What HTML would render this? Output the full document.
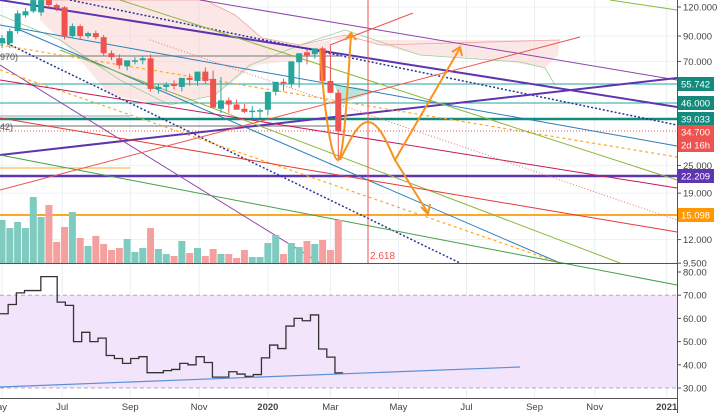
<!DOCTYPE html>
<html><head><meta charset="utf-8">
<style>
html,body{margin:0;padding:0;background:#fff;}
#wrap{position:relative;width:720px;height:413px;overflow:hidden;font-family:"Liberation Sans",sans-serif;}
svg text{font-family:"Liberation Sans",sans-serif;}
</style></head>
<body>
<div id="wrap">
<svg id="chart" width="720" height="413" viewBox="0 0 720 413" xmlns="http://www.w3.org/2000/svg">
<g id="grid"></g>
<g id="cloud">
<polygon points="40,0 205,0 235,15 262,38 300,45 330,40 330,50 300,60 255,65 215,95 165,105 110,95 80,60 40,20" fill="#f8c9c9" opacity="0.45"/>
<polygon points="330,40 560,40 558,55 545,68 500,60 420,55 380,45 345,35" fill="#f8c9c9" opacity="0.45"/>
<polygon points="335,85 360,88 375,92 340,104" fill="#8fd3c2" opacity="0.6"/>
<polyline points="0,15 60,40 120,80 170,105 215,95 250,65 300,45 345,30 420,55 520,62 545,68 555,85" fill="none" stroke="#9ccf9c" stroke-width="0.8"/>
<polyline points="40,0 205,0 235,15 262,38 300,45 345,35 380,45 560,40" fill="none" stroke="#f2a0a0" stroke-width="0.8"/>
</g>
<g id="drawings">
<line x1="0" y1="56" x2="340" y2="56" stroke="#9e9e9e" stroke-width="1.5"/>
<line x1="0" y1="126" x2="340" y2="126" stroke="#9e9e9e" stroke-width="1.5"/>
<line x1="0" y1="116" x2="130" y2="116" stroke="#9e9e9e" stroke-width="1"/>
<line x1="0" y1="168" x2="130" y2="168" stroke="#ffa726" stroke-width="1"/>
<line x1="0" y1="84" x2="677" y2="84" stroke="#26a69a" stroke-width="1"/>
<line x1="0" y1="103" x2="677" y2="103" stroke="#26a69a" stroke-width="1"/>
<line x1="0" y1="119" x2="677" y2="119" stroke="#138a7c" stroke-width="2.5"/>
<line x1="0" y1="131" x2="677" y2="131" stroke="#ef5350" stroke-width="1" stroke-dasharray="1,2"/>
<line x1="0" y1="176" x2="677" y2="176" stroke="#5e35b1" stroke-width="2.5"/>
<line x1="0" y1="215" x2="677" y2="215" stroke="#ffa726" stroke-width="2"/>
<line x1="200" y1="0" x2="677" y2="80" stroke="#8e44ad" stroke-width="1"/>
<line x1="0" y1="0" x2="677" y2="107" stroke="#5e35b1" stroke-width="2"/>
<line x1="70" y1="0" x2="677" y2="125" stroke="#283593" stroke-width="1.5" stroke-dasharray="2,2"/>
<line x1="0" y1="155" x2="677" y2="78" stroke="#5e35b1" stroke-width="2"/>
<line x1="0" y1="25" x2="677" y2="146" stroke="#2a7fb8" stroke-width="1"/>
<line x1="20" y1="30" x2="560" y2="263" stroke="#2a7fb8" stroke-width="1"/>
<line x1="0" y1="40" x2="460" y2="263" stroke="#283593" stroke-width="1.5" stroke-dasharray="2,2"/>
<line x1="0" y1="65" x2="320" y2="263" stroke="#8e44ad" stroke-width="1"/>
<line x1="0" y1="45" x2="677" y2="157" stroke="#ffa726" stroke-width="1.2" stroke-dasharray="3,3"/>
<line x1="0" y1="70" x2="560" y2="263" stroke="#ffa726" stroke-width="1.2" stroke-dasharray="3,3"/>
<line x1="120" y1="0" x2="677" y2="180" stroke="#8bb83a" stroke-width="1"/>
<line x1="60" y1="50" x2="620" y2="263" stroke="#8bb83a" stroke-width="1"/>
<line x1="0" y1="80" x2="677" y2="188" stroke="#c2185b" stroke-width="1"/>
<line x1="0" y1="118" x2="677" y2="232" stroke="#e53935" stroke-width="1"/>
<line x1="150" y1="40" x2="677" y2="220" stroke="#e57373" stroke-width="1" stroke-dasharray="1,2"/>
<line x1="0" y1="155" x2="677" y2="285" stroke="#43a047" stroke-width="1"/>
<line x1="0" y1="190" x2="580" y2="37" stroke="#ef5350" stroke-width="1"/>
<line x1="330" y1="45" x2="413" y2="13" stroke="#ef5350" stroke-width="1"/>
<line x1="610" y1="0" x2="677" y2="10" stroke="#8bb83a" stroke-width="1"/>
<line x1="368" y1="0" x2="368" y2="263" stroke="#ef5350" stroke-width="1"/>
<text x="370" y="259" font-size="10" fill="#ef5350">2.618</text>
<text x="0" y="60" font-size="9" fill="#555">970)</text>
<text x="0" y="130" font-size="9" fill="#555">42)</text>
</g>
<g id="volume"></g>
<g id="candles"></g>
<g id="arrows" fill="none" stroke="#f7931e" stroke-width="2">
<path d="M320,50 C325,120 332,160 338,160 C344,160 348,80 351,35"/>
<path d="M345,40 L351,33 L356,40"/>
<path d="M340,160 C350,140 358,122 368,122 C380,122 390,150 395,160 L460,48"/>
<path d="M452,52 L460,47 L462,56"/>
<path d="M395,160 L428,213"/>
<path d="M421,207 L428,214 L430,204"/>
<path d="M337,372 C345,330 355,300 370,300 C390,300 410,330 428,372"/>
<path d="M420,366 L428,373 L431,362"/>
</g>
<g id="rsi-panel"></g>
<line x1="0" y1="263.5" x2="720" y2="263.5" stroke="#555" stroke-width="1"/>
<line x1="677.5" y1="0" x2="677.5" y2="413" stroke="#555" stroke-width="1"/>
<line x1="0" y1="398.5" x2="677" y2="398.5" stroke="#555" stroke-width="1"/>
<g id="yaxis"></g>
<g id="rsiaxis"></g>
<g id="xaxis"></g>
<g id="badges"></g>
</svg>
</div>
<script>
const opens=[83.7,83.9,94.5,110.5,115,113.8,128.5,122.3,119.6,89.9,99.3,89.9,92.6,89,75.9,72.2,66.7,70.1,70.8,72.2,53.3,54.4,56,54.4,59.5,57.7,63.3,58.9,43.8,47.6,45.7,43.8,42.5,43,43.4,51.8,57.2,56,69.4,76.6,75.2,79.7,57.7,51.3];
const closes=[88.2,94.5,112.7,115,128.5,128.5,122.3,118.7,89.9,99.3,89.9,92.6,89,75.9,73,67.4,70.8,70.8,72.2,53.3,54.4,55.5,54.9,59.5,58.3,63.3,57.7,44.3,47.6,45.7,43.4,42.5,43,43.2,51.8,57.2,56.6,70.1,75.9,74.3,79.7,57.7,51.3,35];
const highs=[91,97,116,119,135,135,132,124,121,102,101,94,95,91,78,75,70,73,74,75,56,57,58,58,62,61,66,64,60,49,48,46,45,44,45,53,59,59,73,79,78,81,82,53];
const lows=[80,80,92,108,113,110,119,115,87,88,87,88,87,74,71,65,64,68,68,52,51,52,53,52,55,55,56,54,42,42,44,42,40,40,41,50,52,54,54,68,72,73,56,26];
const volumes=[43,35,41,35,66,46,58,21,36,51,25,17,27,19,13,15,24,11,15,35,14,9,7,22,10,15,7,14,9,9,5,13,6,6,20,28,9,20,16,22,19,23,13,43];
const rsiValues=[62,66,71,72,72,78,78,67,65.6,50,54,50,51.5,44,42.7,40.6,42.7,43.5,36.6,36.6,37.5,38,40.6,40,43.5,41,34.7,34.7,37,36,35,35.8,43,48.5,47,56.7,60,59,61.5,46.8,43.3,36.5];
const priceTicks=[120,90,70,25,19,12,9.5];
const rsiTicks=[80,70,60,50,40,30];
const timeLabels=["ay","Jul","Sep","Nov","2020","Mar","May","Jul","Sep","Nov","2021"];
const timeWeeks=[0,7.7,16.4,25.2,34,42,50.7,59.4,68.1,75.8,85];

const NS="http://www.w3.org/2000/svg";
function mk(tag,attrs,parent){const e=document.createElementNS(NS,tag);for(const k in attrs)e.setAttribute(k,attrs[k]);parent.appendChild(e);return e;}
const xScale=i=>2+i*7.82;
const xRsi=i=>i*8.17;
const yPrice=p=>7+(Math.log(120)-Math.log(p))*101;
const yRsi=v=>272+(80-v)*2.32;
const yVol=v=>263-v;

const grid=document.getElementById('grid');
timeWeeks.forEach(w=>{const x=xScale(w);mk('line',{x1:x,y1:0,x2:x,y2:398,stroke:'#e8eff3','stroke-width':1},grid);});
priceTicks.forEach(t=>{const y=yPrice(t);mk('line',{x1:0,y1:y,x2:677,y2:y,stroke:'#eef2f4','stroke-width':1},grid);});

const vol=document.getElementById('volume');
volumes.forEach((v,i)=>{const up=closes[i]>=opens[i];
 const r=mk('rect',{x:xScale(i)-3.5,y:yVol(v),width:7,height:v,fill:up?'#7fcbbf':'#f4a09e'},vol);
 
 });

const cg=document.getElementById('candles');
opens.forEach((o,i)=>{const c=closes[i];const up=c>=o;const col=up?'#26a69a':'#ef5350';const x=xScale(i);
 const g=mk('g',{},cg);
 
 
 mk('line',{x1:x,y1:yPrice(highs[i]),x2:x,y2:yPrice(lows[i]),stroke:col,'stroke-width':1},g);
 const y1=yPrice(Math.max(o,c)),y2=yPrice(Math.min(o,c));
 mk('rect',{x:x-3,y:y1,width:6,height:Math.max(1.5,y2-y1),fill:col},g);});

const rp=document.getElementById('rsi-panel');
const band=mk('rect',{x:0,y:yRsi(70),width:677,height:yRsi(30)-yRsi(70),fill:'#f1e4fb'},rp);


[70,30].forEach(v=>mk('line',{x1:0,y1:yRsi(v),x2:677,y2:yRsi(v),stroke:'#b7a6c4','stroke-width':1,'stroke-dasharray':'4,3'},rp));
let d='';rsiValues.forEach((v,i)=>{const xl=xRsi(i),xr=xRsi(i+1),y=yRsi(v);d+=(i?'L':'M')+xl+','+y+'L'+xr+','+y;});
const rl=mk('path',{d:d,fill:'none',stroke:'#333','stroke-width':1.3},rp);


const tl=mk('line',{x1:0,y1:387,x2:520,y2:367,stroke:'#5b8fd6','stroke-width':1.2},rp);



const ya=document.getElementById('yaxis');
mk('rect',{x:678,y:0,width:42,height:413,fill:'#fff'},ya);
priceTicks.forEach(t=>{const y=yPrice(t);mk('line',{x1:677,y1:y,x2:681,y2:y,stroke:'#555'},ya);
 const tx=mk('text',{x:683,y:y+3.5,'font-size':9.5,fill:'#444'},ya);tx.textContent=t.toFixed(3);
 
 });
const ra=document.getElementById('rsiaxis');
rsiTicks.forEach(t=>{const y=yRsi(t);mk('line',{x1:677,y1:y,x2:681,y2:y,stroke:'#555'},ra);
 const tx=mk('text',{x:683,y:y+3.5,'font-size':9.5,fill:'#444'},ra);tx.textContent=t.toFixed(2);
 
 });
const xa=document.getElementById('xaxis');
timeLabels.forEach((l,i)=>{const x=xScale(timeWeeks[i]);
 const tx=mk('text',{x:x,y:410,'font-size':9.5,fill:'#444','text-anchor':'middle','font-weight':l.length===4?'bold':'normal'},xa);tx.textContent=l;
 
 });

const badgeLabels=["55.742","46.000","39.033","34.700","2d 16h","22.209","15.098"];
const badgeYs=[84,103,119,132,145,176,215];
const badgeColors=["#138a7c","#138a7c","#138a7c","#ef5350","#ef5350","#5e35b1","#ff9800"];
const bg=document.getElementById('badges');
badgeLabels.forEach((l,i)=>{const g=mk('g',{},bg);
 
 
 mk('rect',{x:678,y:badgeYs[i]-7,width:36,height:14,fill:badgeColors[i]},g);
 const tx=mk('text',{x:681,y:badgeYs[i]+3.5,'font-size':9.5,fill:'#fff'},g);tx.textContent=l;});
</script>
</body></html>
